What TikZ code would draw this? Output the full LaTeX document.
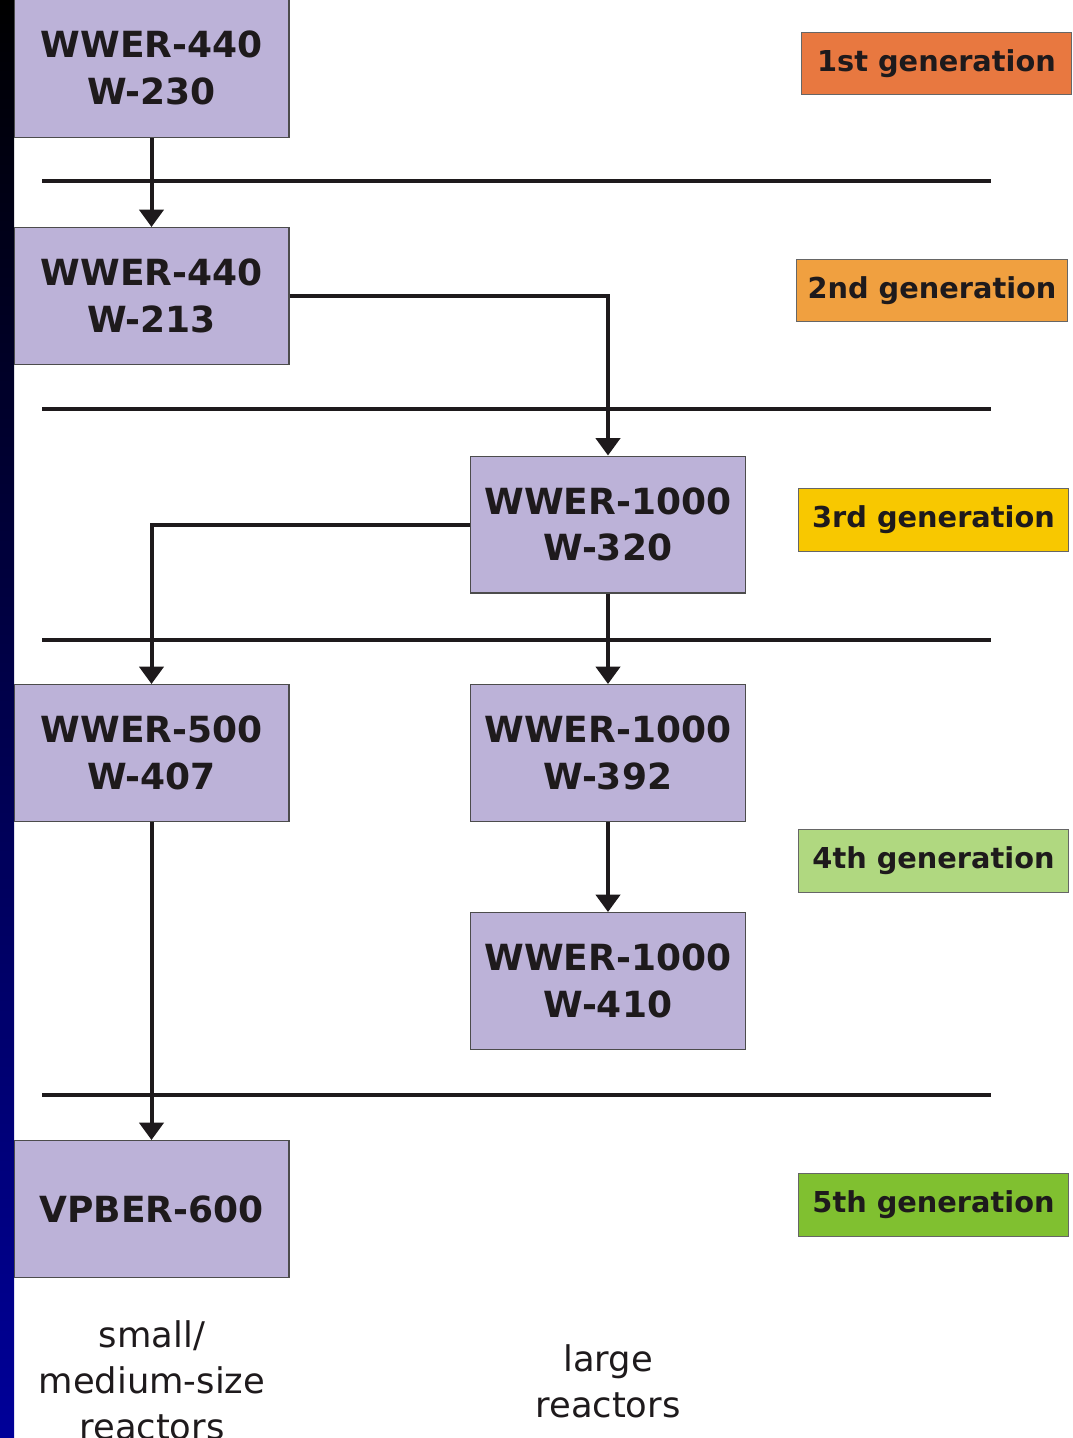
\documentclass[tikz,border=0pt]{standalone}
\usepackage{fontspec}
\setmainfont{DejaVu Sans}
\usetikzlibrary{arrows.meta}
\definecolor{boxfill}{RGB}{188,178,216}
\definecolor{gA}{RGB}{232,120,64}
\definecolor{gB}{RGB}{240,160,64}
\definecolor{gC}{RGB}{248,200,0}
\definecolor{gD}{RGB}{176,216,128}
\definecolor{gE}{RGB}{128,192,48}
\definecolor{ink}{RGB}{30,26,28}
\definecolor{navy}{RGB}{0,0,153}
\begin{document}
\begin{tikzpicture}[x=0.75pt,y=-0.75pt,
  reactor/.style={draw=black!70,line width=1pt,fill=boxfill,minimum width=206pt,minimum height=102.5pt,
    inner sep=0pt,align=center,text=ink,font=\fontsize{27}{35}\selectfont\bfseries},
  genlabel/.style={draw=black!60,line width=0.8pt,minimum width=203pt,minimum height=47pt,inner sep=0pt,
    text=ink,font=\fontsize{21.6}{25}\selectfont\bfseries},
  conn/.style={draw=ink,line width=3pt,-{Triangle[width=18pt,length=13pt]}},
  sep/.style={draw=ink,line width=3pt},
  foot/.style={align=center,text=ink,font=\fontsize{26.5}{34.5}\selectfont}]
\useasboundingbox (0,0) rectangle (1072,1438);
\fill[white] (0,0) rectangle (1072,1438);
\shade[top color=black,bottom color=navy] (0,0) rectangle (14,1438);
% separators
\draw[sep] (42,181) -- (991,181);
\draw[sep] (42,409) -- (991,409);
\draw[sep] (42,640) -- (991,640);
\draw[sep] (42,1095) -- (991,1095);
% reactor boxes
\node[reactor,minimum height=104pt] (b1) at (151.5,68) {WWER-440\\W-230};
\node[reactor] (b2) at (151.5,296) {WWER-440\\W-213};
\node[reactor] (b3) at (608,524.5) {WWER-1000\\W-320};
\node[reactor] (b4) at (151.5,753) {WWER-500\\W-407};
\node[reactor] (b5) at (608,753) {WWER-1000\\W-392};
\node[reactor] (b6) at (608,981) {WWER-1000\\W-410};
\node[reactor] (b7) at (151.5,1209) {VPBER-600};
% generation labels
\node[genlabel,fill=gA] (g1) at (936.5,63.5) {1st generation};
\node[genlabel,fill=gB] (g2) at (932,290.5) {2nd generation};
\node[genlabel,fill=gC] (g3) at (933.5,520) {3rd generation};
\node[genlabel,fill=gD] (g4) at (933.5,861) {4th generation};
\node[genlabel,fill=gE] (g5) at (933.5,1205) {5th generation};
% connectors
\draw[conn] (b1) -- (b2);
\draw[conn] (b2.east) -| (b3.north);
\draw[conn] (b3.west) -| (b4.north);
\draw[conn] (b3) -- (b5);
\draw[conn] (b5) -- (b6);
\draw[conn] (b4) -- (b7);
% footers
\node[foot] (f1) at (152,1380) {small/\\medium-size\\reactors};
\node[foot] (f2) at (608,1381) {large\\reactors};
\end{tikzpicture}
\end{document}
